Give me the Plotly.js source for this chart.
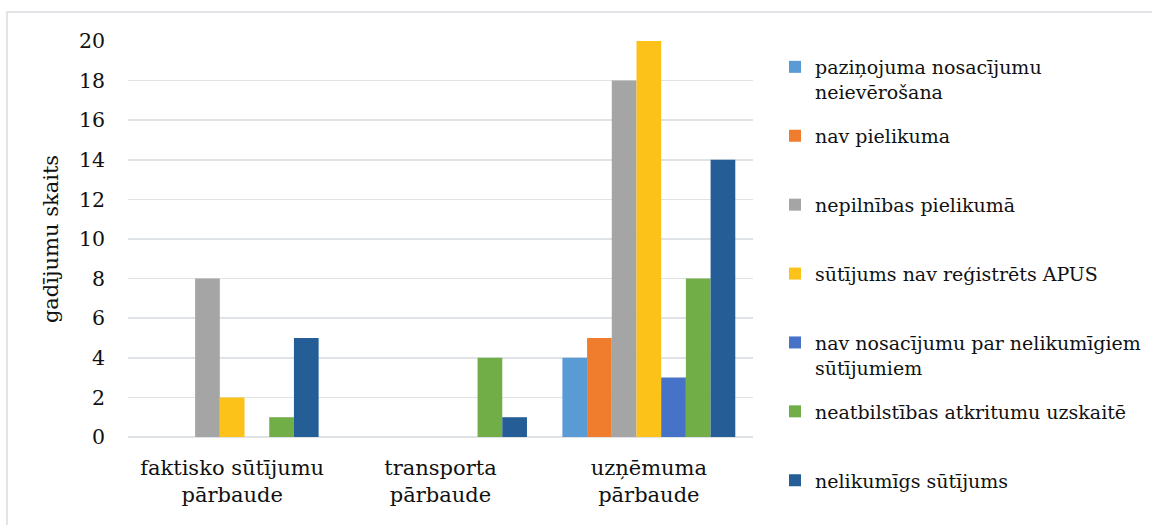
<!DOCTYPE html>
<html>
<head>
<meta charset="utf-8">
<script src="https://cdn.plot.ly/plotly-3.0.1.min.js"></script>
<style>
html,body{margin:0;padding:0;background:#fff;}
#chart{width:1152px;height:525px;}
</style>
</head>
<body>
<div id="chart"></div>
<script>
const categories = ["faktisko sūtījumu<br>pārbaude", "transporta<br>pārbaude", "uzņēmuma<br>pārbaude"];
const seriesNames = [
  "paziņojuma nosacījumu<br>neievērošana",
  "nav pielikuma",
  "nepilnības pielikumā",
  "sūtījums nav reģistrēts APUS",
  "nav nosacījumu par nelikumīgiem<br>sūtījumiem",
  "neatbilstības atkritumu uzskaitē",
  "nelikumīgs sūtījums"
];
const vPazinojuma = [0, 0, 4];
const vNavPielikuma = [0, 0, 5];
const vNepilnibas = [8, 0, 18];
const vNavRegistrets = [2, 0, 20];
const vNavNosacijumu = [0, 0, 3];
const vNeatbilstibas = [1, 4, 8];
const vNelikumigs = [5, 1, 14];
const seriesValues = [vPazinojuma, vNavPielikuma, vNepilnibas, vNavRegistrets, vNavNosacijumu, vNeatbilstibas, vNelikumigs];
const colors = ["#5B9BD5", "#F07C2E", "#A5A5A5", "#FCC21A", "#4672C8", "#72AE48", "#255E96"];
const yTicks = [0, 2, 4, 6, 8, 10, 12, 14, 16, 18, 20];

const FONT = "DejaVu Serif";

const traces = seriesNames.map((name, i) => ({
  type: "bar",
  name: (name.indexOf("<br>") >= 0 || i === seriesNames.length - 1) ? name : name + "<br>\u00a0",
  x: categories,
  y: seriesValues[i],
  marker: {color: colors[i], line: {width: 0}},
  legendgroup: "g" + i,
  hoverinfo: "x+y+name"
}));

// pixel geometry of the plotting area
const L = 128, R = 753, T = 41, B = 437, W = 1152, H = 525;
const MT = 5, MB = 5, MR = 0;
const pw = W - MR - L, ph = H - MT - MB;
const py = px => (H - MB - px) / ph;   // pixel y -> paper y
const pxx = px => (px - L) / pw;       // pixel x -> paper x

const layout = {
  width: W, height: H,
  margin: {l: L, r: MR, t: MT, b: MB, pad: 0},
  paper_bgcolor: "#ffffff",
  plot_bgcolor: "rgba(0,0,0,0)",
  font: {family: FONT, size: 21, color: "#111111"},
  barmode: "group",
  bargap: 0.17,
  bargroupgap: 0,
  showlegend: true,
  legend: {
    x: pxx(775), y: py(48),
    xanchor: "left", yanchor: "top",
    valign: "top",
    font: {family: FONT, size: 19, color: "#111111"},
    tracegroupgap: 16.5,
    itemwidth: 30,
    bgcolor: "rgba(0,0,0,0)"
  },
  xaxis: {
    type: "category",
    domain: [0, pxx(R)],
    showgrid: false,
    showline: false,
    zeroline: false,
    ticks: "",
    ticklabelstandoff: 16,
    tickfont: {family: FONT, size: 21, color: "#111111"},
    fixedrange: true
  },
  yaxis: {
    domain: [py(B), py(T)],
    range: [0, 20],
    tickvals: yTicks,
    ticktext: yTicks.map(String),
    showgrid: true,
    gridcolor: "#DFE3E8",
    gridwidth: 1.6,
    zeroline: true,
    zerolinecolor: "#DFE3E8",
    zerolinewidth: 1.6,
    showline: false,
    ticks: "",
    ticklabelstandoff: 22,
    tickfont: {family: FONT, size: 20.5, color: "#111111"},
    title: {text: "gadījumu skaits", font: {family: FONT, size: 21, color: "#111111"}, standoff: 14},
    fixedrange: true
  },
  shapes: [{
    type: "rect", xref: "paper", yref: "paper",
    x0: pxx(7), x1: pxx(W + 10),
    y0: py(H + 10), y1: py(12),
    line: {color: "#D9DCE1", width: 1.5},
    fillcolor: "rgba(0,0,0,0)",
    layer: "below"
  }]
};

Plotly.newPlot("chart", traces, layout, {displayModeBar: false, staticPlot: true});
</script>
</body>
</html>
